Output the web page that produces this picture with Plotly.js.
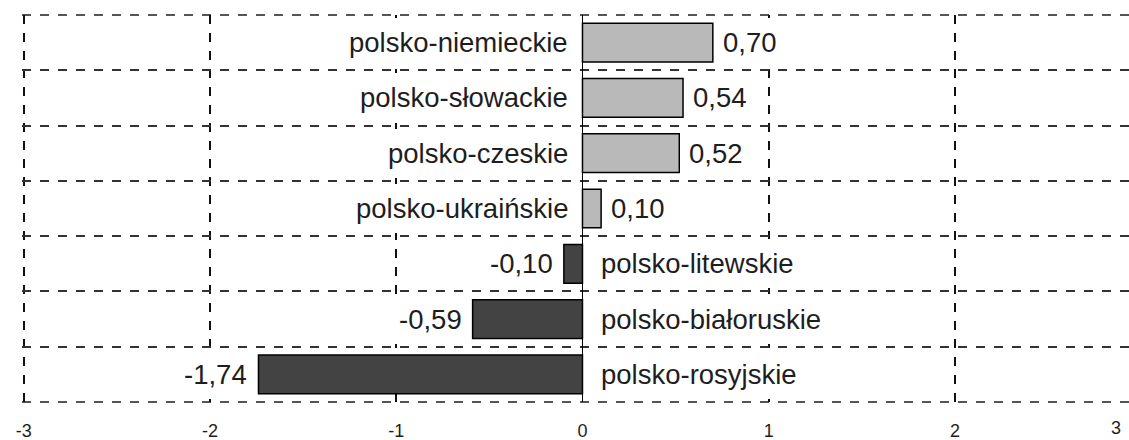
<!DOCTYPE html>
<html>
<head>
<meta charset="utf-8">
<script src="https://cdn.plot.ly/plotly-3.0.1.min.js"></script>
<style>html,body{margin:0;padding:0;background:#fff}#chart{width:1129px;height:440px}</style>
</head>
<body>
<div id="chart"></div>
<script>
const categories = ["polsko-niemieckie","polsko-słowackie","polsko-czeskie","polsko-ukraińskie","polsko-litewskie","polsko-białoruskie","polsko-rosyjskie"];
const values = [0.70, 0.54, 0.52, 0.10, -0.10, -0.59, -1.74];
const tickValues = [-3, -2, -1, 0, 1, 2];
const tickLabels = ["-3", "-2", "-1", "0", "1", "2"];
const lastTickLabel = "3";

const posColor = "#b9b9b9";
const negColor = "#434343";
const textColor = "#1e1e1e";
const fontFam = "Liberation Sans, Arial, sans-serif";

const idx = categories.map((c, i) => i);
const fmt = v => v.toFixed(2).replace('.', ',');

const trace = {
  type: 'bar',
  orientation: 'h',
  x: values,
  y: idx,
  width: 0.7,
  marker: {
    color: values.map(v => v >= 0 ? posColor : negColor),
    line: {color: '#000', width: 1.5}
  },
  hoverinfo: 'none'
};

const labelBox = {bgcolor: '#fff', borderpad: 9, borderwidth: 0};
const annotations = [];
values.forEach((v, i) => {
  const pos = v >= 0;
  annotations.push(Object.assign({
    x: 0, y: i, xref: 'x', yref: 'y', text: categories[i], showarrow: false,
    xanchor: pos ? 'right' : 'left', xshift: pos ? -5 : 10,
    font: {family: fontFam, size: 27.5, color: textColor}
  }, labelBox));
  annotations.push(Object.assign({
    x: v, y: i, xref: 'x', yref: 'y', text: fmt(v), showarrow: false,
    xanchor: pos ? 'left' : 'right', xshift: pos ? 1 : -2,
    font: {family: fontFam, size: 27.5, color: textColor}
  }, labelBox));
});
annotations.push({
  x: 1, y: 0, xref: 'paper', yref: 'paper', yanchor: 'top', yshift: -14,
  text: lastTickLabel, showarrow: false, xanchor: 'right', xshift: -6,
  font: {family: fontFam, size: 18, color: textColor}
});

const gridY = [];
for (let k = 0; k <= categories.length; k++) gridY.push(k - 0.5);

const borderLine = {color: '#555', width: 2, dash: 'dash'};
const shapes = [
  {type: 'line', xref: 'paper', yref: 'paper', x0: 0, x1: 1, y0: 1, y1: 1, line: borderLine, layer: 'below'},
  {type: 'line', xref: 'paper', yref: 'paper', x0: 0, x1: 1, y0: 0, y1: 0, line: borderLine, layer: 'below'}
];

const layout = {
  width: 1129, height: 440,
  margin: {l: 22, r: 0, t: 15, b: 38},
  paper_bgcolor: '#fff', plot_bgcolor: '#fff',
  showlegend: false,
  xaxis: {
    range: [-3.01, 2.935],
    tickvals: tickValues, ticktext: tickLabels,
    tickfont: {family: fontFam, size: 18, color: textColor},
    ticks: 'outside', ticklen: 12, tickcolor: 'rgba(0,0,0,0)',
    showgrid: true, gridcolor: '#111', griddash: 'dash', gridwidth: 2,
    zeroline: true, zerolinecolor: '#000', zerolinewidth: 1.5,
    showline: false, fixedrange: true
  },
  yaxis: {
    range: [6.5, -0.5],
    tickvals: gridY, showticklabels: false,
    showgrid: true, gridcolor: '#333', griddash: 'dash', gridwidth: 2,
    zeroline: false, showline: false, fixedrange: true
  },
  shapes: shapes,
  annotations: annotations
};

Plotly.newPlot('chart', [trace], layout, {displayModeBar: false, staticPlot: true});
</script>
</body>
</html>
